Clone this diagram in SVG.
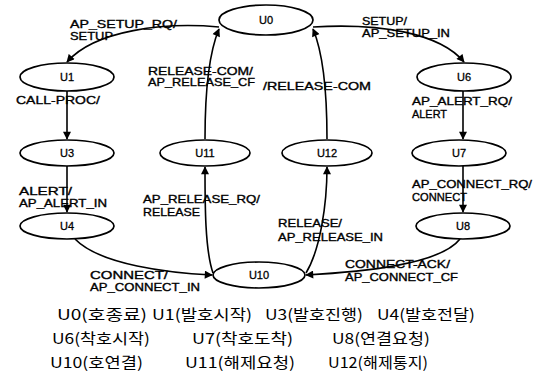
<svg xmlns="http://www.w3.org/2000/svg" width="535" height="372" viewBox="0 0 535 372">
<style>
.node ellipse{fill:#fff;stroke:#000;stroke-width:1.7}
.node text{font-family:"Liberation Sans",Arial,sans-serif;font-size:11px;text-anchor:middle;fill:#000;stroke:#000;stroke-width:0.3}
.conn path{fill:none;stroke:#000;stroke-width:1.6}
.lbl{font-family:"Liberation Sans",Arial,sans-serif;font-size:11px;fill:#000;stroke:#000;stroke-width:0.35}
.leg{font-family:"Noto Sans CJK KR","Noto Sans",sans-serif;font-size:15px;fill:#000}
</style>
<defs>
<marker id="ah" viewBox="0 0 10 10" refX="9" refY="5" markerWidth="9" markerHeight="8" markerUnits="userSpaceOnUse" orient="auto">
<path d="M0,0 L10,5 L0,10 z" fill="#000"/>
</marker>
</defs>
<g id="connectors" class="conn">
<path d="M219,27 C165,22 95,30 67,62" marker-end="url(#ah)"/>
<path d="M67,91 L67,139" marker-end="url(#ah)"/>
<path d="M67,166 L67,212" marker-end="url(#ah)"/>
<path d="M75,239 C100,265 170,273 212,275" marker-end="url(#ah)"/>
<path d="M213,273 C205,250 205,205 205,167" marker-end="url(#ah)"/>
<path d="M205,139 C205,95 208,55 219,29" marker-end="url(#ah)"/>
<path d="M306,273 C320,250 327,205 327,167" marker-end="url(#ah)"/>
<path d="M327,139 C327,95 324,55 313,29" marker-end="url(#ah)"/>
<path d="M313,27 C380,23 440,33 464,62" marker-end="url(#ah)"/>
<path d="M463,91 L463,139" marker-end="url(#ah)"/>
<path d="M463,166 L463,212" marker-end="url(#ah)"/>
<path d="M460,239 C440,265 360,272 306,275" marker-end="url(#ah)"/>
</g>
<g id="U0" class="node"><ellipse cx="266" cy="20" rx="47" ry="15"/><text x="266" y="24">U0</text></g>
<g id="U1" class="node"><ellipse cx="67" cy="77" rx="47" ry="14"/><text x="67" y="81">U1</text></g>
<g id="U3" class="node"><ellipse cx="67" cy="153" rx="47" ry="13"/><text x="67" y="157">U3</text></g>
<g id="U4" class="node"><ellipse cx="67" cy="226" rx="47" ry="13"/><text x="67" y="230">U4</text></g>
<g id="U11" class="node"><ellipse cx="205" cy="153" rx="45" ry="13"/><text x="205" y="157">U11</text></g>
<g id="U12" class="node"><ellipse cx="327" cy="153" rx="45" ry="13"/><text x="327" y="157">U12</text></g>
<g id="U6" class="node"><ellipse cx="464" cy="77" rx="47" ry="14"/><text x="464" y="81">U6</text></g>
<g id="U7" class="node"><ellipse cx="459" cy="153" rx="47" ry="13"/><text x="459" y="157">U7</text></g>
<g id="U8" class="node"><ellipse cx="463" cy="226" rx="47" ry="13"/><text x="463" y="230">U8</text></g>
<g id="U10" class="node"><ellipse cx="259" cy="275" rx="46" ry="13"/><text x="259" y="279">U10</text></g>
<g id="labels">
<text class="lbl" x="70" y="28" textLength="107" lengthAdjust="spacingAndGlyphs">AP_SETUP_RQ/</text>
<text class="lbl" x="70" y="40" textLength="43" lengthAdjust="spacingAndGlyphs">SETUP</text>
<text class="lbl" x="148" y="75" textLength="105" lengthAdjust="spacingAndGlyphs">RELEASE-COM/</text>
<text class="lbl" x="148" y="86" textLength="107" lengthAdjust="spacingAndGlyphs">AP_RELEASE_CF</text>
<text class="lbl" x="16" y="104" textLength="84" lengthAdjust="spacingAndGlyphs">CALL-PROC/</text>
<text class="lbl" x="263" y="90" textLength="108" lengthAdjust="spacingAndGlyphs">/RELEASE-COM</text>
<text class="lbl" x="362" y="25" textLength="45" lengthAdjust="spacingAndGlyphs">SETUP/</text>
<text class="lbl" x="362" y="37" textLength="88" lengthAdjust="spacingAndGlyphs">AP_SETUP_IN</text>
<text class="lbl" x="412" y="105" textLength="100" lengthAdjust="spacingAndGlyphs">AP_ALERT_RQ/</text>
<text class="lbl" x="412" y="118" textLength="35" lengthAdjust="spacingAndGlyphs">ALERT</text>
<text class="lbl" x="19" y="195" textLength="53" lengthAdjust="spacingAndGlyphs">ALERT/</text>
<text class="lbl" x="19" y="207" textLength="88" lengthAdjust="spacingAndGlyphs">AP_ALERT_IN</text>
<text class="lbl" x="143" y="203" textLength="117" lengthAdjust="spacingAndGlyphs">AP_RELEASE_RQ/</text>
<text class="lbl" x="143" y="216" textLength="57" lengthAdjust="spacingAndGlyphs">RELEASE</text>
<text class="lbl" x="412" y="188" textLength="120" lengthAdjust="spacingAndGlyphs">AP_CONNECT_RQ/</text>
<text class="lbl" x="412" y="201" textLength="55" lengthAdjust="spacingAndGlyphs">CONNECT</text>
<text class="lbl" x="278" y="227" textLength="64" lengthAdjust="spacingAndGlyphs">RELEASE/</text>
<text class="lbl" x="278" y="241" textLength="105" lengthAdjust="spacingAndGlyphs">AP_RELEASE_IN</text>
<text class="lbl" x="90" y="279" textLength="78" lengthAdjust="spacingAndGlyphs">CONNECT/</text>
<text class="lbl" x="90" y="291" textLength="110" lengthAdjust="spacingAndGlyphs">AP_CONNECT_IN</text>
<text class="lbl" x="345" y="268" textLength="105" lengthAdjust="spacingAndGlyphs">CONNECT-ACK/</text>
<text class="lbl" x="345" y="281" textLength="113" lengthAdjust="spacingAndGlyphs">AP_CONNECT_CF</text>
</g>
<g id="legend">
<text class="leg" x="57" y="320" textLength="90" lengthAdjust="spacingAndGlyphs">U0(호종료)</text>
<text class="leg" x="152" y="320" textLength="100" lengthAdjust="spacingAndGlyphs">U1(발호시작)</text>
<text class="leg" x="265" y="320" textLength="98" lengthAdjust="spacingAndGlyphs">U3(발호진행)</text>
<text class="leg" x="377" y="320" textLength="98" lengthAdjust="spacingAndGlyphs">U4(발호전달)</text>
<text class="leg" x="52" y="344" textLength="98" lengthAdjust="spacingAndGlyphs">U6(착호시작)</text>
<text class="leg" x="192" y="344" textLength="101" lengthAdjust="spacingAndGlyphs">U7(착호도착)</text>
<text class="leg" x="332" y="344" textLength="98" lengthAdjust="spacingAndGlyphs">U8(연결요청)</text>
<text class="leg" x="50" y="368" textLength="93" lengthAdjust="spacingAndGlyphs">U10(호연결)</text>
<text class="leg" x="185" y="368" textLength="110" lengthAdjust="spacingAndGlyphs">U11(해제요청)</text>
<text class="leg" x="328" y="368" textLength="100" lengthAdjust="spacingAndGlyphs">U12(해제통지)</text>
</g>
</svg>
